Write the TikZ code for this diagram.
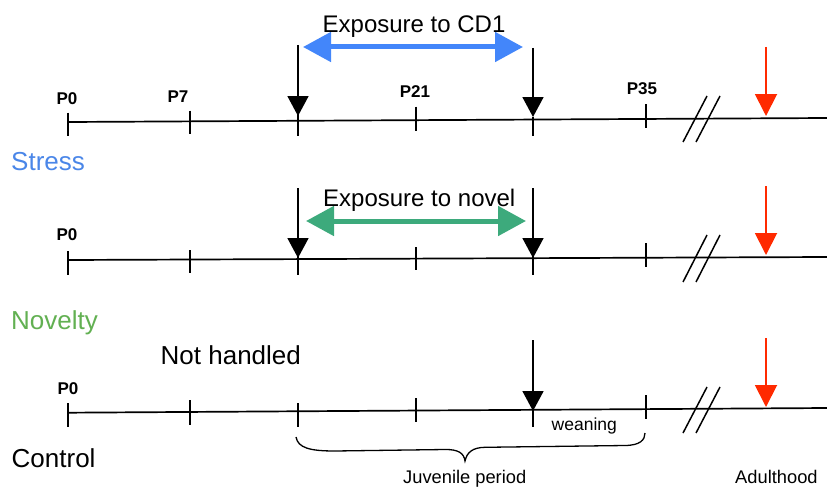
\documentclass[tikz,border=0pt]{standalone}
\usepackage{fontspec}
\setmainfont{Liberation Sans}
\usetikzlibrary{arrows.meta}
\definecolor{stressblue}{HTML}{4A86E8}
\definecolor{arrowblue}{HTML}{4386FA}
\definecolor{novgreen}{HTML}{62B052}
\definecolor{arrowgreen}{HTML}{3DAA7C}
\definecolor{adultred}{HTML}{FF2A00}
\newcommand{\fs}[1]{\fontsize{#1}{#1}\selectfont}
\tikzset{
  axis/.style={line width=1.7pt},
  tick/.style={line width=1.5pt},
  slash/.style={line width=1.5pt},
  blackarrow/.style={line width=1.7pt,-{Triangle[length=20pt,width=21pt]}},
  redarrow/.style={line width=1.9pt,draw=adultred,-{Triangle[length=22pt,width=22pt]},color=adultred},
  exparrow/.style={line width=5pt,{Triangle[length=28pt,width=29pt]}-{Triangle[length=28pt,width=29pt]}},
  plabel/.style={anchor=base,inner sep=0pt,font=\fs{17}\bfseries},
  grouplabel/.style={anchor=base west,inner sep=0pt,font=\fs{26}},
  exptext/.style={anchor=base west,inner sep=0pt,font=\fs{24}},
  smalltext/.style={anchor=base west,inner sep=0pt,font=\fs{18.3}},
  weantext/.style={anchor=base west,inner sep=0pt,font=\fs{17.5}},
}
\begin{document}
\begin{tikzpicture}[x=1pt,y=-1pt]
\useasboundingbox (0,0) rectangle (827,487);

% ---------- Row 1 (Stress) ----------
\coordinate (a1s) at (68,122);
\coordinate (a1e) at (827,118);
\draw[axis] (a1s) -- (a1e);
\draw[tick] (68,112.7) -- (68,135.7);
\draw[tick] (190,110.7) -- (190,134.3);
\draw[tick] (298,113) -- (298,136);
\draw[tick] (416,106.7) -- (416,130.7);
\draw[tick] (533,117) -- (533,135.5);
\draw[tick] (646,104) -- (646,127.7);
\draw[slash] (683,142) -- (707,96);
\draw[slash] (696,142) -- (720,96);
\node[plabel] (p0a) at (67,104) {P0};
\node[plabel] (p7) at (178,102) {P7};
\node[plabel] (p21) at (415,97) {P21};
\node[plabel] (p35) at (642,95) {P35};
\coordinate (b1a) at (298,45);
\coordinate (b1at) at (298,116);
\coordinate (b1b) at (533,48);
\coordinate (b1bt) at (533,117);
\draw[blackarrow] (b1a) -- (b1at);
\draw[blackarrow] (b1b) -- (b1bt);
\coordinate (r1) at (766,47);
\coordinate (r1t) at (766,116);
\draw[redarrow] (r1) -- (r1t);
\coordinate (e1s) at (303,47);
\coordinate (e1e) at (523,47);
\draw[exparrow,draw=arrowblue,color=arrowblue] (e1s) -- (e1e);
\node[exptext] (exp1) at (322.5,33) {Exposure to CD1};
\node[grouplabel,text=stressblue] (stress) at (11,170.5) {Stress};

% ---------- Row 2 (Novelty) ----------
\coordinate (a2s) at (68,260);
\coordinate (a2e) at (827,257);
\draw[axis] (a2s) -- (a2e);
\draw[tick] (68,251) -- (68,275);
\draw[tick] (190,250) -- (190,273);
\draw[tick] (298,252) -- (298,275);
\draw[tick] (416,247) -- (416,270);
\draw[tick] (533,252) -- (533,275);
\draw[tick] (646,243) -- (646,267);
\draw[slash] (683,282) -- (707,235);
\draw[slash] (696,282) -- (720,235);
\node[plabel] (p0b) at (67,240) {P0};
\coordinate (b2a) at (298,188);
\coordinate (b2at) at (298,258);
\coordinate (b2b) at (533,188);
\coordinate (b2bt) at (533,258);
\draw[blackarrow] (b2a) -- (b2at);
\draw[blackarrow] (b2b) -- (b2bt);
\coordinate (r2) at (766,186);
\coordinate (r2t) at (766,255);
\draw[redarrow] (r2) -- (r2t);
\coordinate (e2s) at (306,221);
\coordinate (e2e) at (526,221);
\draw[exparrow,draw=arrowgreen,color=arrowgreen] (e2s) -- (e2e);
\node[exptext] (exp2) at (323,206) {Exposure to novel};
\node[grouplabel,text=novgreen] (novelty) at (11,329) {Novelty};

% ---------- Row 3 (Control) ----------
\coordinate (a3s) at (68,412.7);
\coordinate (a3e) at (827,408);
\draw[axis] (a3s) -- (a3e);
\draw[tick] (68,403) -- (68,427);
\draw[tick] (190,400) -- (190,425);
\draw[tick] (298,403) -- (298,427);
\draw[tick] (416,398) -- (416,422);
\draw[tick] (533,405) -- (533,427);
\draw[tick] (646,395) -- (646,419);
\draw[slash] (683,433) -- (707,387);
\draw[slash] (696,433) -- (720,387);
\node[plabel] (p0c) at (68,394) {P0};
\coordinate (b3b) at (533,340);
\coordinate (b3bt) at (533,411);
\draw[blackarrow] (b3b) -- (b3bt);
\coordinate (r3) at (766,338);
\coordinate (r3t) at (766,407);
\draw[redarrow] (r3) -- (r3t);
\node[grouplabel] (nothandled) at (160.5,364) {Not handled};
\node[grouplabel] (control) at (11.5,467) {Control};
\node[weantext] (weaning) at (551.5,430) {weaning};

% brace
\coordinate (brl) at (296,437);
\coordinate (brm) at (465,461);
\coordinate (brr) at (645,433);
\draw[line width=1.3pt] (brl) .. controls (298,448) and (310,451) .. (335,451)
  -- (445,449.5) .. controls (458,449.3) and (464,453) .. (brm)
  .. controls (467,452) and (473,447.5) .. (485,447.3)
  -- (625,445.5) .. controls (640,445.3) and (645,440) .. (brr);
\node[smalltext] (juvenile) at (403,483) {Juvenile period};
\node[smalltext] (adulthood) at (735,483) {Adulthood};
\end{tikzpicture}
\end{document}
